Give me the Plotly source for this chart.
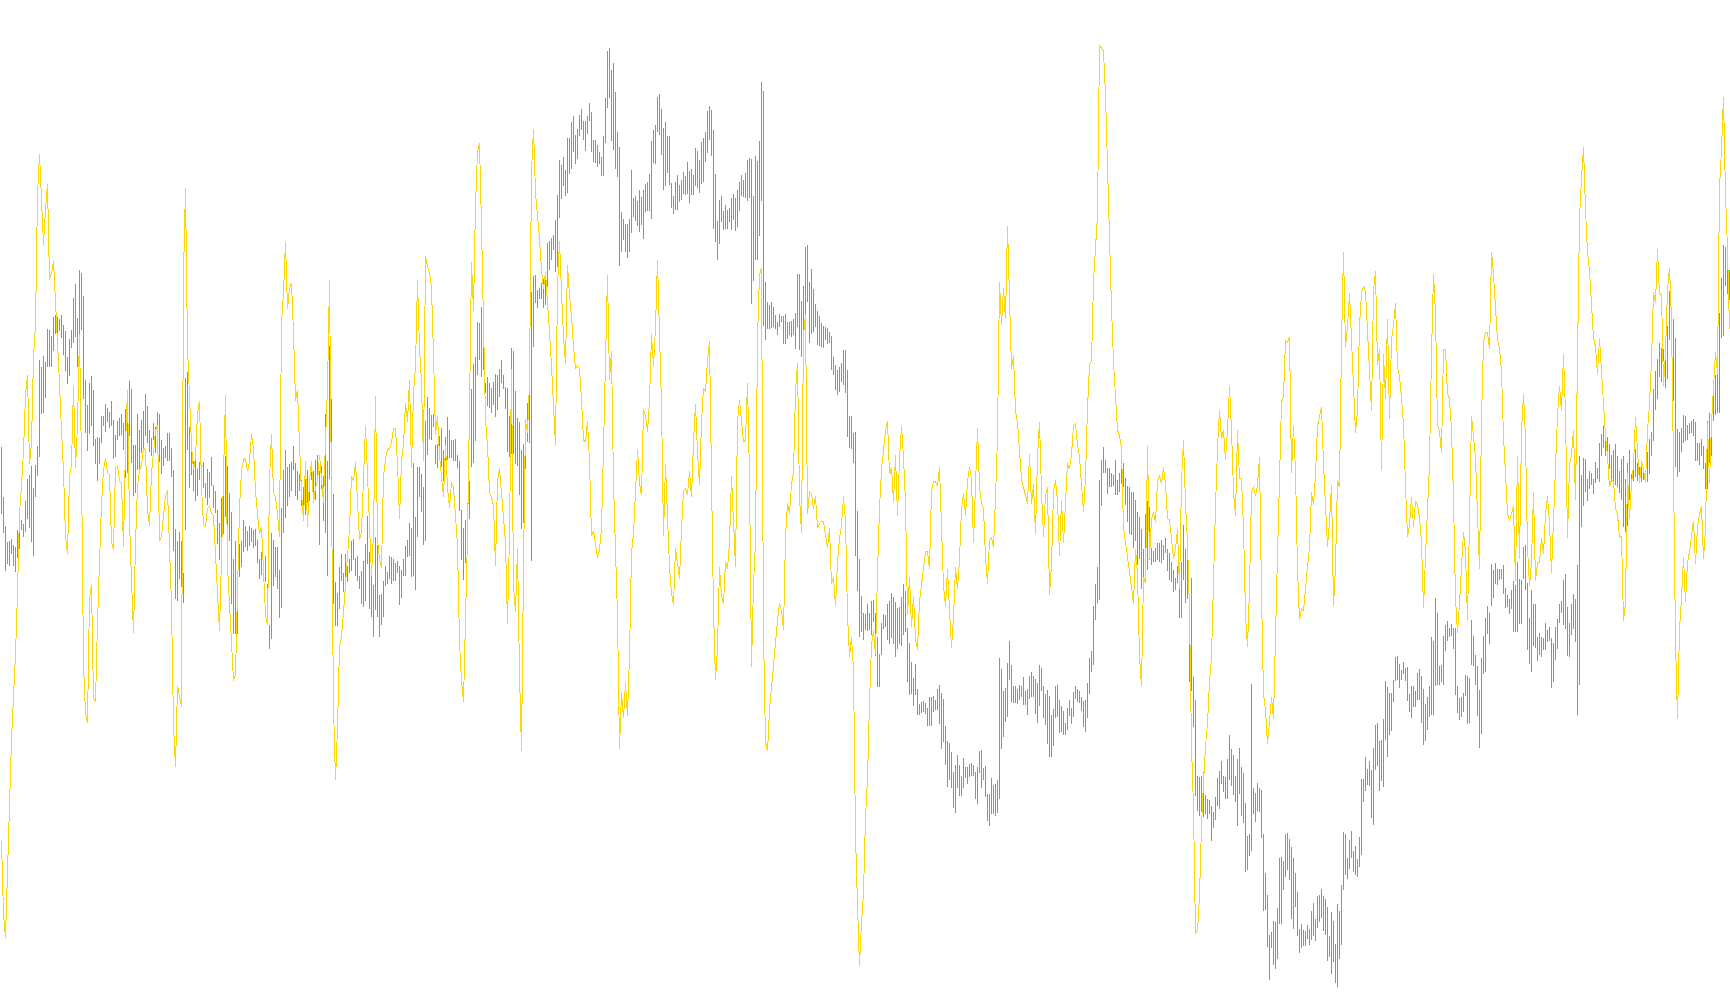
import plotly.graph_objects as go

green_top = [
444,494,522,538,537,535,541,543,526,528,516,520,498,476,472,463,485,462,443,357,364,354,359,327,328,
334,315,313,315,317,313,323,329,355,337,328,296,282,316,268,271,294,377,402,380,373,387,436,434,435,
413,413,401,405,409,398,417,432,418,415,411,420,406,388,378,386,442,442,411,427,417,408,391,403,427,
435,420,424,409,411,437,445,443,430,430,445,467,525,537,528,537,569,375,369,424,436,458,453,466,459,
462,459,480,466,469,454,482,488,506,519,495,483,453,463,490,508,555,537,585,540,537,516,522,527,522,
524,526,525,536,555,548,556,552,580,621,529,536,543,543,566,504,467,447,464,461,459,443,460,468,471,
477,484,476,467,483,467,468,457,452,468,463,473,411,458,344,396,491,578,589,563,550,569,550,562,555,
537,535,554,552,572,567,557,540,512,548,560,581,533,541,591,590,577,562,568,552,553,555,559,557,562,
566,555,542,536,519,524,460,513,464,464,471,484,418,394,405,412,411,442,441,433,425,447,434,414,427,
437,437,436,452,458,506,524,516,499,478,386,361,355,320,321,305,332,380,374,380,385,379,371,372,366,
357,372,384,385,413,346,349,388,415,419,447,441,417,400,390,290,274,273,288,286,281,277,277,241,239,
236,233,218,194,159,164,156,169,137,137,121,115,134,128,114,108,120,120,115,102,111,139,139,144,151,
156,135,97,51,48,70,63,91,131,146,211,217,222,222,217,169,197,195,200,189,196,189,183,181,173,
140,129,124,96,93,108,127,121,135,135,182,195,181,174,184,179,171,175,161,170,168,174,147,150,159,
141,137,131,110,105,109,129,173,219,199,195,210,204,209,207,197,193,197,189,181,174,179,172,159,157,
158,195,155,160,140,81,90,280,300,303,300,305,313,320,312,314,314,312,320,320,319,317,311,272,272,
299,284,245,243,280,267,287,302,309,314,321,324,325,326,330,334,355,362,367,364,360,348,348,367,413,
413,430,429,507,555,592,609,610,600,609,597,596,609,633,649,619,610,611,600,597,589,593,598,604,603,
593,580,587,624,639,657,673,659,684,699,697,696,698,703,692,692,691,695,684,680,688,694,721,736,738,
747,767,760,750,760,771,753,762,762,759,758,760,767,762,746,745,763,761,788,788,773,780,779,775,653,
664,686,683,658,637,660,681,681,684,680,681,672,686,684,671,667,671,674,678,660,663,681,689,685,691,
710,704,681,680,695,701,706,718,703,695,703,687,681,684,686,692,696,695,678,653,646,602,580,563,477,
457,444,457,465,465,470,472,457,477,470,458,460,475,483,484,489,489,497,508,513,525,545,510,498,503,
544,547,544,539,539,536,541,534,545,549,558,566,574,562,564,558,521,545,555,605,574,672,695,771,772,
771,767,789,793,794,800,806,791,773,766,756,771,772,754,730,744,750,771,754,743,762,768,797,830,828,
679,783,787,778,783,784,828,867,889,928,926,915,916,902,852,851,855,828,827,833,841,852,867,886,923,
918,924,925,919,923,905,897,913,890,889,883,890,893,901,929,906,915,937,898,905,879,826,828,852,834,
825,845,840,853,831,774,774,752,764,756,765,743,720,718,736,735,714,676,682,688,688,675,652,651,659,
665,657,663,662,689,681,681,686,668,664,671,684,699,692,681,633,637,594,609,661,660,632,621,617,624,
620,624,624,681,693,692,688,670,671,673,616,632,650,661,685,653,632,614,602,609,560,566,559,565,565,
565,561,584,591,595,586,577,581,558,575,576,543,541,579,614,586,600,600,633,629,633,634,619,626,623,
634,639,623,615,600,597,576,570,603,619,600,590,595,561,453,472,455,456,476,468,470,476,459,465,440,
431,423,431,434,441,452,447,441,453,468,456,453,476,460,447,471,461,446,460,464,462,465,467,449,436,
429,386,368,356,341,346,347,347,324,289,310,317,336,426,429,425,412,413,422,420,418,416,419,440,440,
436,443,460,418,410,420,389,372,367,311,276,243,245,245,268]

green_bottom = [
510,529,567,560,562,550,562,568,554,545,526,533,528,515,524,538,552,494,473,454,411,410,395,364,364,
364,349,332,340,329,336,353,368,381,373,346,341,335,364,362,328,396,430,448,431,423,443,461,478,461,
440,423,429,419,425,423,456,454,437,433,432,447,475,470,433,460,493,490,467,466,450,445,433,440,449,
453,437,450,437,459,471,463,455,458,458,474,547,595,597,575,583,599,526,447,485,472,488,498,493,477,
483,485,495,501,495,483,504,509,540,556,556,530,513,521,537,600,630,630,630,573,563,548,543,547,542,
538,544,542,559,575,571,572,578,611,644,635,582,573,585,614,604,529,514,502,494,488,467,493,497,488,
502,503,511,499,498,477,489,497,478,541,486,517,529,572,476,467,600,622,622,605,577,588,583,578,569,
567,556,572,577,585,600,603,597,560,605,613,633,606,613,633,621,613,582,580,575,580,577,577,569,601,
594,572,572,553,552,573,572,586,533,494,508,541,537,452,436,437,424,461,465,457,464,478,458,457,455,
455,458,458,465,507,556,576,559,533,515,464,460,438,372,357,374,367,390,403,405,410,402,414,407,394,
380,386,406,449,454,451,451,461,463,492,525,519,466,439,440,557,345,301,306,297,297,306,303,285,268,
258,248,270,265,216,198,185,195,192,173,168,151,163,158,135,129,139,150,133,120,151,161,162,166,163,
175,175,142,107,97,140,149,168,176,264,250,238,250,256,250,231,215,219,224,230,223,237,211,210,210,
217,162,163,131,134,154,189,185,172,184,207,213,209,209,201,199,193,194,193,202,194,194,185,187,192,
183,181,161,152,139,155,227,240,258,242,220,228,227,227,220,228,218,229,225,210,195,196,197,200,197,
302,279,258,258,234,200,324,338,327,327,326,325,327,333,325,320,342,342,337,333,335,333,347,325,348,
355,340,333,300,341,332,330,325,343,344,345,346,338,342,341,367,372,387,392,389,379,382,390,434,445,
446,460,552,587,633,628,636,626,627,626,631,618,651,682,682,650,625,623,636,640,634,640,652,644,640,
641,631,628,677,690,689,701,690,710,710,708,707,709,721,721,721,707,705,705,719,744,737,760,782,775,
783,802,807,783,790,790,783,773,779,772,771,771,793,798,768,783,775,791,815,820,808,808,810,807,793,
744,732,717,712,675,697,698,698,699,695,692,700,700,710,694,692,692,709,718,701,686,713,720,739,752,
752,741,713,712,728,727,730,730,725,711,719,712,694,697,698,706,722,727,713,689,667,660,616,599,596,
502,470,470,491,484,484,483,492,492,489,481,484,501,518,530,531,544,537,561,555,585,582,547,566,556,
561,558,558,556,558,559,556,549,567,576,578,588,586,579,614,614,576,599,595,677,686,722,790,805,810,
806,811,808,813,808,835,822,814,800,803,779,786,793,793,775,781,789,796,820,788,810,817,866,864,850,
845,808,816,805,806,832,905,904,940,973,941,958,962,952,918,918,884,871,864,874,913,923,901,929,946,
941,939,939,932,938,933,929,934,922,916,912,925,928,954,950,967,955,976,980,952,938,884,869,873,863,
852,866,869,871,861,849,796,785,780,781,812,819,765,761,785,776,782,735,752,730,726,697,676,675,683,
675,669,676,696,707,713,702,702,695,695,718,740,736,725,712,710,710,681,680,680,677,680,646,637,633,
632,644,690,708,715,712,707,691,719,718,660,661,680,711,743,729,669,667,630,640,602,594,580,581,576,
575,590,604,603,610,605,628,628,628,620,620,575,586,645,659,667,641,643,656,650,652,645,645,638,637,
683,677,655,644,619,609,621,625,651,652,631,625,638,710,680,523,502,489,498,486,482,491,480,476,479,
453,445,453,449,466,479,483,482,484,490,497,523,528,522,497,482,478,474,478,476,479,477,480,479,471,
453,438,407,396,374,379,358,385,376,338,350,398,464,474,469,449,440,438,437,431,430,433,458,458,462,
453,466,486,486,460,453,418,412,410,410,336,334,284,292,298]

yellow = [
835,908,931,864,794,735,692,650,588,510,483,448,393,372,461,440,355,323,194,153,198,243,208,183,278,
272,259,297,337,381,428,467,533,550,473,462,383,465,422,332,460,660,709,718,594,581,693,697,618,549,
500,467,455,469,471,538,546,464,463,477,479,543,442,387,517,576,629,540,483,467,462,445,447,507,522,
470,450,428,422,537,533,512,492,487,547,600,720,762,681,692,702,273,187,345,398,442,467,455,410,398,
483,522,523,505,503,510,512,555,593,627,554,484,392,562,603,650,676,670,582,504,468,457,455,468,458,
431,445,488,510,530,523,572,611,621,477,431,489,494,510,533,320,291,240,307,286,281,330,398,387,442,
489,517,458,523,478,458,499,484,478,452,476,499,437,385,278,468,702,775,723,642,632,608,582,551,525,
473,478,459,494,536,528,465,423,471,530,572,530,393,533,556,564,473,455,447,445,440,426,426,460,515,
458,442,400,419,377,465,390,364,278,346,380,458,254,265,270,286,351,432,413,452,473,494,442,484,504,
479,484,510,541,637,676,697,619,533,406,260,309,203,151,142,224,333,416,442,489,494,502,562,478,465,
489,506,539,620,530,366,582,608,544,668,746,563,418,430,380,170,128,192,211,237,268,287,270,306,330,
363,406,442,285,239,289,335,361,263,294,313,344,366,363,366,397,437,439,418,458,532,527,542,554,546,
525,444,349,273,377,349,480,551,611,744,687,713,677,711,651,549,530,489,446,480,492,406,413,429,399,
332,363,325,258,332,401,532,461,513,563,589,601,544,563,575,525,487,485,491,468,494,439,401,449,482,
420,385,389,358,339,458,606,675,642,563,592,600,558,565,539,473,523,563,418,397,418,439,437,380,473,
662,580,539,336,273,266,628,737,746,705,681,657,640,616,599,606,626,534,500,510,481,469,389,360,493,
529,333,312,510,488,490,505,493,524,520,518,518,532,544,524,580,573,602,558,534,522,493,517,611,652,
633,664,829,899,959,916,887,812,773,698,640,626,650,568,505,466,447,428,418,471,464,498,452,512,457,
423,454,498,611,573,623,592,635,645,597,580,563,548,548,565,488,478,478,483,464,529,582,602,565,606,
643,614,563,585,556,505,490,512,478,464,476,539,481,425,483,500,505,553,580,536,534,544,495,433,280,
323,286,317,224,286,366,353,408,420,451,475,484,491,500,451,500,481,530,454,419,488,533,491,484,591,
561,488,477,497,552,497,539,500,460,466,451,423,420,442,454,481,508,475,405,362,359,280,250,213,45,
48,51,94,170,237,305,359,396,427,433,445,524,539,549,564,582,600,545,570,652,681,573,579,443,555,
515,509,518,478,472,481,464,481,515,516,536,555,545,525,585,478,437,500,539,606,741,802,927,924,890,
820,777,741,719,677,652,573,503,445,407,436,427,457,427,383,427,488,512,427,475,475,524,610,642,585,
489,483,492,482,454,589,690,704,739,717,692,714,616,550,477,399,394,338,340,335,470,423,467,565,616,
604,607,580,562,545,489,501,472,423,413,404,460,504,543,518,482,602,562,477,484,340,250,345,325,291,
342,396,430,408,323,291,284,289,333,367,408,289,269,362,347,467,352,396,317,416,338,323,301,364,374,
396,421,482,533,521,494,523,498,501,514,538,604,553,504,460,352,272,311,423,428,450,347,347,391,396,
426,494,594,629,599,562,528,548,616,518,413,433,455,511,565,416,340,330,330,347,250,272,308,338,345,
369,433,468,509,517,509,503,577,453,555,429,391,435,544,582,557,489,577,559,559,534,550,511,493,520,
569,511,470,412,383,408,352,410,534,462,451,427,497,375,216,177,146,208,251,268,299,336,344,371,336,
369,408,433,453,484,476,478,505,511,534,532,617,598,470,515,480,462,414,443,480,458,466,480,427,402,
358,290,301,247,292,292,383,350,288,266,317,464,637,714,625,594,553,598,559,548,530,517,560,522,511,
503,555,526,420,480,420,383,350,371,187,148,96,193,247,327]

n = min(len(green_top), len(green_bottom), len(yellow))
index = list(range(n))
height = [green_bottom[i] - green_top[i] for i in index]

fig = go.Figure()
fig.add_trace(go.Bar(x=index, y=height, base=green_top[:n], width=0.45,
                     marker=dict(color="#22DD22", line=dict(width=0)), hoverinfo="skip"))
fig.add_trace(go.Scatter(x=index, y=yellow[:n], mode="lines",
                         line=dict(color="#FFD700", width=1), hoverinfo="skip"))
fig.update_layout(width=1730, height=1005, margin=dict(l=0, r=0, t=0, b=0),
                  paper_bgcolor="white", plot_bgcolor="white", showlegend=False)
fig.update_xaxes(range=[-0.75, 864.25], visible=False, fixedrange=True)
fig.update_yaxes(range=[998, 0], visible=False, fixedrange=True)
fig.write_html("out.html", config=dict(displayModeBar=False),
               post_script="document.body.style.margin='0';document.documentElement.style.overflow='hidden';"
                           "var s=document.createElement('style');"
                           "s.textContent='.js-line,.bars path{shape-rendering:crispEdges !important;}';"
                           "document.head.appendChild(s);"
                           "document.querySelectorAll('.js-line,.bars path').forEach(function(p){"
                           "p.setAttribute('shape-rendering','crispEdges');p.style.shapeRendering='crispEdges';});")
